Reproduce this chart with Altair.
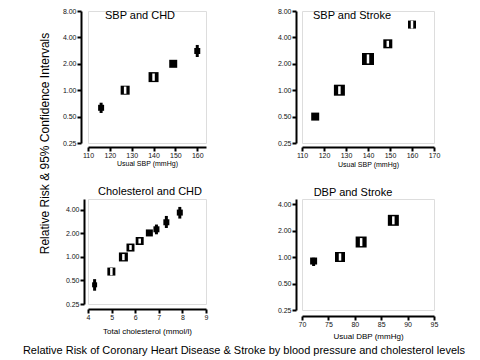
import altair as alt
import pandas as pd

# ---------------- data ----------------
# Panel 1: SBP and CHD
sbp_chd_x = [116, 127, 140, 149, 160]
sbp_chd_rr = [0.63, 1.0, 1.41, 2.0, 2.80]
sbp_chd_lo = [0.55, 0.91, 1.28, 1.93, 2.39]
sbp_chd_hi = [0.72, 1.10, 1.55, 2.07, 3.28]
sbp_chd_w = [6, 9, 10, 8, 6]
sbp_chd_hollow = [False, True, True, False, False]

# Panel 2: SBP and Stroke
sbp_str_x = [116, 127, 140, 149, 160]
sbp_str_rr = [0.50, 1.0, 2.27, 3.38, 5.6]
sbp_str_lo = [0.47, 0.90, 2.02, 3.12, 5.03]
sbp_str_hi = [0.53, 1.11, 2.56, 3.66, 6.24]
sbp_str_w = [8, 11, 12, 9, 8]
sbp_str_hollow = [False, True, True, True, True]

# Panel 3: Cholesterol and CHD
chol_x = [4.28, 4.99, 5.5, 5.8, 6.19, 6.6, 6.9, 7.32, 7.89]
chol_rr = [0.44, 0.65, 1.0, 1.32, 1.60, 2.03, 2.26, 2.78, 3.70]
chol_lo = [0.37, 0.58, 0.91, 1.23, 1.49, 1.97, 1.95, 2.35, 3.10]
chol_hi = [0.52, 0.73, 1.09, 1.42, 1.72, 2.09, 2.60, 3.35, 4.37]
chol_w = [5, 8, 9, 8, 8, 7, 6, 6, 6]
chol_hollow = [False, True, True, True, True, False, False, False, False]

# Panel 4: DBP and Stroke
dbp_x = [72.2, 77.2, 81.2, 87.3]
dbp_rr = [0.90, 1.0, 1.48, 2.61]
dbp_lo = [0.79, 0.91, 1.33, 2.35]
dbp_hi = [0.98, 1.10, 1.64, 2.90]
dbp_w = [7, 10, 11, 11]
dbp_hollow = [False, True, True, True]

FONT = "Liberation Sans"


def make_df(x, rr, lo, hi, w, hollow):
    return pd.DataFrame({"x": x, "rr": rr, "lo": lo, "hi": hi, "w": w, "hollow": hollow})


def panel(df, title, title_dx, title_dy, xdom, xticks, xfmt, xtitle, xtitle_size,
          xtitle_pad, ydom, yticks, width, height, yoff, xoff, ytitle=None):
    xaxis = alt.Axis(values=xticks, format=xfmt, title=xtitle, offset=xoff, labelFlush=False,
                     titleFontSize=xtitle_size, titleFontWeight="normal", titlePadding=xtitle_pad,
                     labelFontSize=7, labelPadding=0, tickSize=4, tickWidth=2, domainWidth=2,
                     grid=False, domainColor="black", tickColor="black", labelColor="#111",
                     titleColor="black", labelFont=FONT, titleFont=FONT)
    if ytitle:
        yaxis = alt.Axis(values=yticks, format=".2f", title=ytitle, offset=yoff, grid=False,
                         labelFontSize=7, labelPadding=1, tickSize=4, tickWidth=2, domainWidth=2,
                         domainColor="black", tickColor="black", labelColor="#111",
                         titleColor="black", titleFontSize=12, titleFontWeight="normal",
                         titleFont=FONT, labelFont=FONT, titleAngle=270, titleAlign="center",
                         titleBaseline="middle", titleX=-37, titleY=132)
    else:
        yaxis = alt.Axis(values=yticks, format=".2f", title=None, offset=yoff, grid=False,
                         labelFontSize=7, labelPadding=1, tickSize=4, tickWidth=2, domainWidth=2,
                         domainColor="black", tickColor="black", labelColor="#111",
                         labelFont=FONT)
    xsc = alt.Scale(domain=xdom, nice=False, zero=False)
    ysc = alt.Scale(type="log", domain=ydom, nice=False)
    base = alt.Chart(df)
    ci = base.mark_rule(color="black", strokeWidth=3).encode(
        x=alt.X("x:Q", scale=xsc, axis=xaxis),
        y=alt.Y("lo:Q", scale=ysc, axis=yaxis),
        y2="hi:Q",
    )
    box = base.mark_square(color="black", opacity=1).encode(
        x=alt.X("x:Q", scale=xsc, axis=xaxis),
        y=alt.Y("rr:Q", scale=ysc, axis=yaxis),
        size=alt.Size("w:Q", scale=alt.Scale(type="pow", exponent=2, domain=[0, 12], range=[0, 144]),
                      legend=None),
    )
    white = base.transform_filter("datum.hollow").mark_rule(color="white", strokeWidth=2.5).encode(
        x=alt.X("x:Q", scale=xsc, axis=xaxis),
        y=alt.Y("lo:Q", scale=ysc, axis=yaxis),
        y2="hi:Q",
    )
    return alt.layer(ci, box, white).properties(
        width=width, height=height,
        title=alt.TitleParams(text=title, fontSize=11, fontWeight="normal", font=FONT,
                              anchor="middle", frame="group", baseline="middle",
                              offset=0, dx=title_dx, dy=title_dy, color="black"),
    )


p1 = panel(make_df(sbp_chd_x, sbp_chd_rr, sbp_chd_lo, sbp_chd_hi, sbp_chd_w, sbp_chd_hollow),
           "SBP and CHD", -7, 20, [110, 164], [110, 120, 130, 140, 150, 160], "d",
           "Usual SBP (mmHg)", 7, 1, [0.25, 8], [0.25, 0.5, 1, 2, 4, 8], 118, 132, 7, 4,
           ytitle="Relative Risk & 95% Confidence Intervals")
p2 = panel(make_df(sbp_str_x, sbp_str_rr, sbp_str_lo, sbp_str_hi, sbp_str_w, sbp_str_hollow),
           "SBP and Stroke", -16, 20, [110, 170], [110, 120, 130, 140, 150, 160, 170], "d",
           "Usual SBP (mmHg)", 7, 2, [0.25, 8], [0.25, 0.5, 1, 2, 4, 8], 132, 132, 6, 4)
p3 = panel(make_df(chol_x, chol_rr, chol_lo, chol_hi, chol_w, chol_hollow),
           "Cholesterol and CHD", 3, 4, [4, 9], [4, 5, 6, 7, 8, 9], "d",
           "Total cholesterol (mmol/l)", 8, 7, [0.25, 5.52], [0.25, 0.5, 1, 2, 4], 118, 105, 4, 5)
p4 = panel(make_df(dbp_x, dbp_rr, dbp_lo, dbp_hi, dbp_w, dbp_hollow),
           "DBP and Stroke", -15, 5, [70, 95], [70, 75, 80, 85, 90, 95], "d",
           "Usual DBP (mmHg)", 8, 5, [0.25, 4.56], [0.25, 0.5, 1, 2, 4], 132, 111, 6, 6)

chart = alt.concat(
    p1, p2, p3, p4, columns=2, spacing={"row": 56, "column": 96}, bounds="flush",
    title=alt.TitleParams(
        text="Relative Risk of Coronary Heart Disease & Stroke by blood pressure and cholesterol levels",
        orient="bottom", anchor="middle", fontSize=11, fontWeight="normal", font=FONT,
        color="black", offset=4, dx=5),
).properties(
    padding={"left": 14, "top": -2, "right": 5, "bottom": 5},
).configure_view(strokeWidth=0).configure(font=FONT, background="white")

chart.save("out.html", embed_options={"renderer": "svg", "actions": False})
